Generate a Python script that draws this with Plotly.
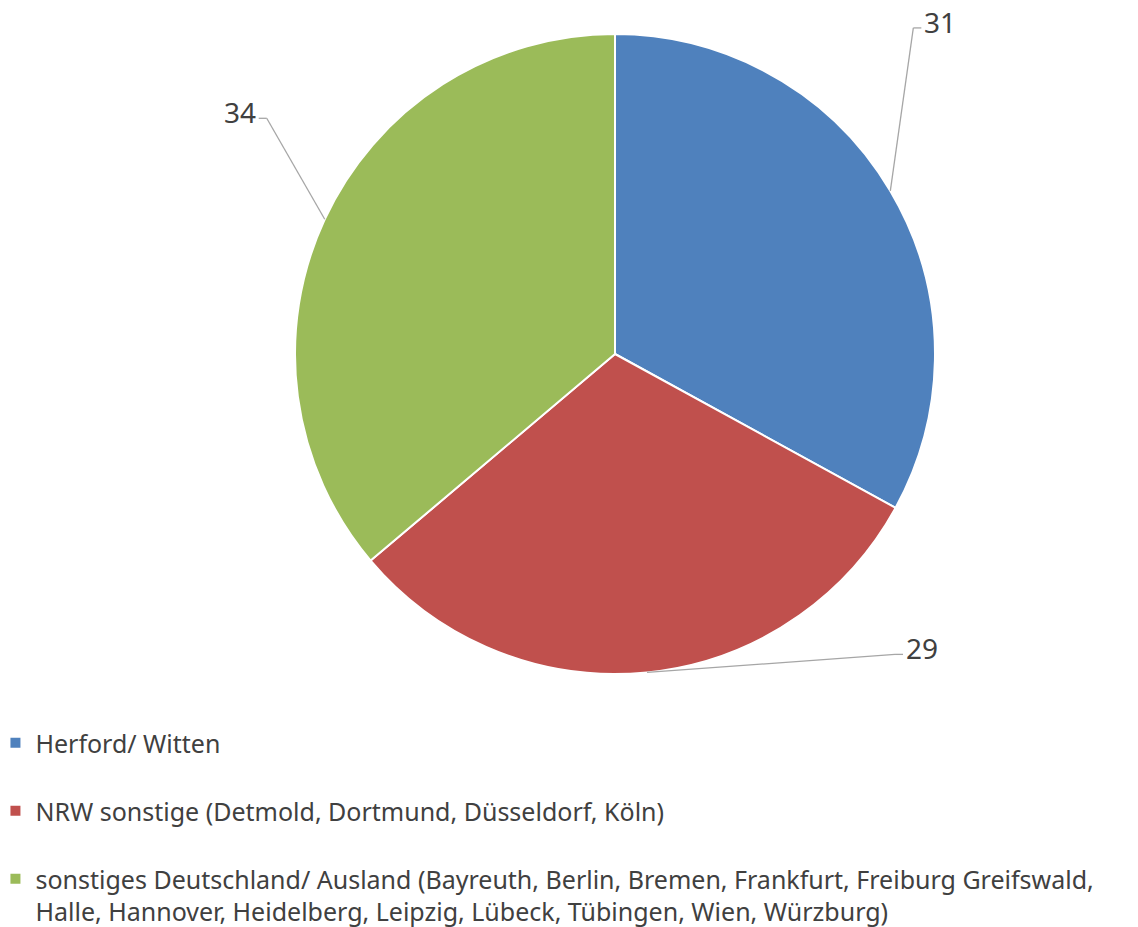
import math
import plotly.graph_objects as go

# ---- data ----
labels = [
    "Herford/ Witten",
    "NRW sonstige (Detmold, Dortmund, Düsseldorf, Köln)",
    "sonstiges Deutschland/ Ausland (Bayreuth, Berlin, Bremen, Frankfurt, Freiburg Greifswald,",
]
labels_line2 = ["", "", "Halle, Hannover, Heidelberg, Leipzig, Lübeck, Tübingen, Wien, Würzburg)"]
values = [31, 29, 34]
colors = ["#4F81BD", "#C0504D", "#9BBB59"]

# ---- layout geometry (pixels) ----
W, H = 1138, 927
CX, CY, R = 615, 354, 320
# elbow offsets of the leader lines relative to the slice edge point, tick direction
leader_offsets = [(23, -163, 1), (248, -18, 1), (-58, -101, -1)]
TICK = 8
FONT = "Noto Sans"

def px(x):
    return x / W

def py(y):
    return 1 - y / H

legend_text = []
for a, b in zip(labels, labels_line2):
    legend_text.append(a + "<br>" + (b if b else "&nbsp;"))

fig = go.Figure(go.Pie(
    labels=legend_text,
    values=values,
    sort=False,
    direction="clockwise",
    rotation=0,
    marker=dict(colors=colors, line=dict(color="white", width=2)),
    textinfo="none",
    hoverinfo="label+value",
    domain=dict(x=[px(CX - R), px(CX + R)], y=[py(CY + R), py(CY - R)]),
))

shapes = []
annotations = []
total = sum(values)
cum = 0
for v, (dx, dy, side) in zip(values, leader_offsets):
    mid = (cum + v / 2) / total * 2 * math.pi
    cum += v
    ex = CX + R * math.sin(mid)
    ey = CY - R * math.cos(mid)
    elx, ely = ex + dx, ey + dy
    tx = elx + side * TICK
    line = dict(color="#A6A6A6", width=1.3)
    shapes.append(dict(type="line", xref="paper", yref="paper",
                       x0=px(ex), y0=py(ey), x1=px(elx), y1=py(ely), line=line))
    shapes.append(dict(type="line", xref="paper", yref="paper",
                       x0=px(elx), y0=py(ely), x1=px(tx), y1=py(ely), line=line))
    annotations.append(dict(
        x=px(tx + side * 1), y=py(ely - 6), xref="paper", yref="paper",
        text=str(v), showarrow=False,
        xanchor="left" if side > 0 else "right", yanchor="middle",
        font=dict(family=FONT, size=28, color="#404040"),
    ))

fig.update_layout(
    width=W, height=H, autosize=False,
    margin=dict(l=0, r=0, t=0, b=0, autoexpand=False),
    paper_bgcolor="white", plot_bgcolor="white",
    shapes=shapes, annotations=annotations,
    showlegend=True,
    legend=dict(
        x=-0.004, xanchor="left", y=py(720), yanchor="top",
        orientation="v", valign="top",
        font=dict(family=FONT, size=25, color="#404040"),
        bgcolor="rgba(0,0,0,0)", borderwidth=0,
    ),
)

fig.write_html("out.html", post_script="document.body.style.margin='0';",
               config={"displayModeBar": False})
